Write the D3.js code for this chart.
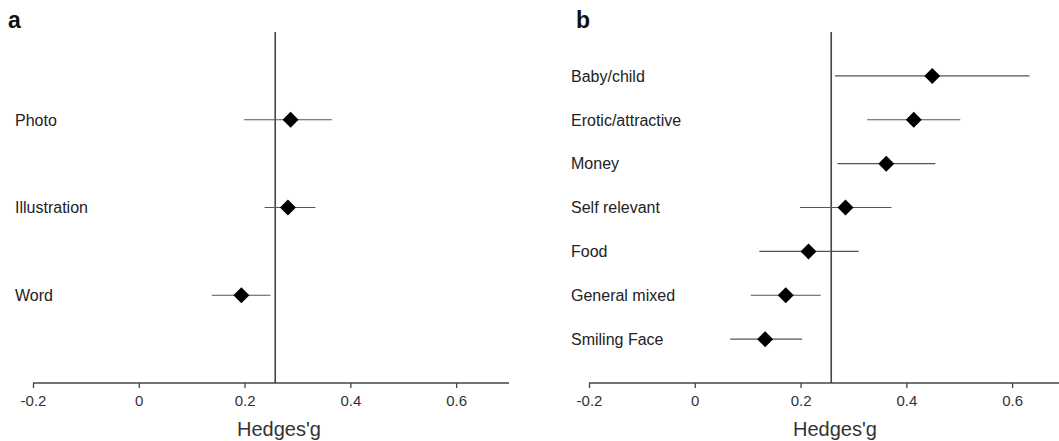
<!DOCTYPE html>
<html><head><meta charset="utf-8">
<script src="https://cdn.jsdelivr.net/npm/d3@7"></script>
<style>body{margin:0;background:#fff}svg{display:block}
.tick text{font-size:15px !important;font-family:"Liberation Sans",Arial,sans-serif}</style>
</head><body>
<svg id="c" width="1059" height="441"></svg>
<script>
const catsA = ["Photo","Illustration","Word"];
const estA  = [0.287, 0.282, 0.194];
const lowA  = [0.199, 0.238, 0.138];
const highA = [0.365, 0.334, 0.249];

const catsB = ["Baby/child","Erotic/attractive","Money","Self relevant","Food","General mixed","Smiling Face"];
const estB  = [0.449, 0.414, 0.362, 0.285, 0.215, 0.172, 0.133];
const lowB  = [0.265, 0.326, 0.270, 0.199, 0.122, 0.106, 0.067];
const highB = [0.633, 0.502, 0.455, 0.372, 0.310, 0.238, 0.203];

const tickVals = [-0.2, 0, 0.2, 0.4, 0.6];
const tickLabels = ["-0.2","0","0.2","0.4","0.6"];
const overall = 0.258;
const axisTitle = "Hedges'g";

const svg = d3.select("#c");
const font = "Liberation Sans, Arial, sans-serif";

function panel(opt){
  const {ox, letter, cats, est, low, high, labelX, letterX} = opt;
  const g = svg.append("g");
  const x = d3.scaleLinear().domain([-0.2, 0.7]).range([ox, ox + 476]);
  const y = d3.scaleLinear().domain([0, cats.length + 1]).range([32, 383]);

  g.append("text").attr("x", letterX).attr("y", 28).text(letter)
    .style("font-family", font).style("font-weight", "bold").style("font-size", "23px").attr("fill", "#111");

  const ax = g.append("g").attr("transform", `translate(0,${y(cats.length+1)})`)
    .call(d3.axisBottom(x).tickValues(tickVals).tickFormat((d,i)=>tickLabels[i]).tickSize(5).tickSizeOuter(0));
  ax.attr("font-size", 15).attr("font-family", font);
  ax.select(".domain").attr("stroke", "#444").attr("stroke-width", 1.5)
    .attr("d", `M${x(-0.2)},0H${x(0.7)}`);
  ax.selectAll(".tick line").attr("stroke", "#444").attr("stroke-width", 1.3);
  ax.selectAll(".tick text").attr("font-size", 15).attr("fill", "#333").attr("y", 12).attr("dy", "0.71em");

  g.append("text").attr("x", (x(-0.2)+x(0.7))/2 + 8).attr("y", 436).attr("text-anchor", "middle")
    .text(axisTitle).style("font-family", font).style("font-size", "20px").attr("fill", "#333");

  g.append("line").attr("x1", x(overall)).attr("x2", x(overall))
    .attr("y1", y(0)).attr("y2", y(cats.length+1)).attr("stroke", "#444").attr("stroke-width", 1.6);

  cats.forEach((c,i)=>{
    const yy = y(i+1);
    g.append("text").attr("x", labelX).attr("y", yy).attr("dy", "0.36em").text(c)
      .style("font-family", font).style("font-size", "16px").attr("fill", "#222");
    g.append("line").attr("x1", x(low[i])).attr("x2", x(high[i])).attr("y1", yy).attr("y2", yy)
      .attr("stroke", "#555").attr("stroke-width", 1.2);
    const cx = x(est[i]), r = 8;
    g.append("path").attr("d", `M${cx},${yy-r}L${cx+r},${yy}L${cx},${yy+r}L${cx-r},${yy}Z`).attr("fill", "#000");
  });
}

panel({ox: 33, letter: "a", cats: catsA, est: estA, low: lowA, high: highA, labelX: 15, letterX: 8});
panel({ox: 589, letter: "b", cats: catsB, est: estB, low: lowB, high: highB, labelX: 571, letterX: 576});
</script>
</body></html>
